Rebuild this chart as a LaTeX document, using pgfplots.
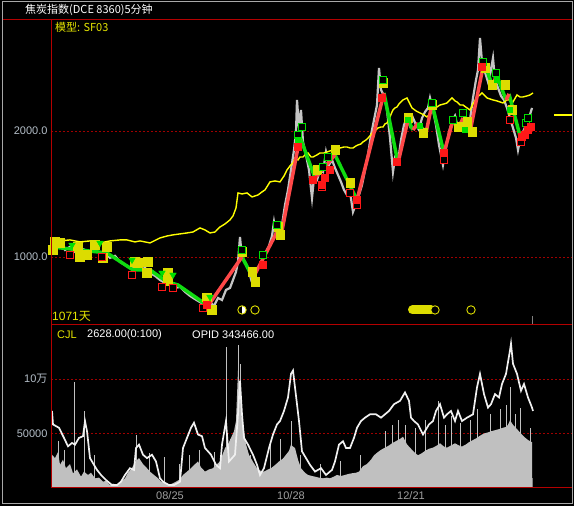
\documentclass[border=0pt]{standalone}
\usepackage{fontspec}
\setmainfont{Liberation Sans}
\newfontfamily\cjk{Noto Sans CJK SC}
\usepackage{pgfplots}
\pgfplotsset{compat=1.18}
\usetikzlibrary{plotmarks}

\definecolor{framegray}{HTML}{A8A8A8}
\definecolor{axred}{HTML}{B40000}
\definecolor{gridred}{HTML}{A00000}
\definecolor{ticktxt}{HTML}{B4BEC8}
\definecolor{pricegray}{HTML}{C4C4C4}
\definecolor{sfyel}{HTML}{FFFF00}
\definecolor{mkyel}{HTML}{DCDC00}
\definecolor{upred}{HTML}{FF4848}
\definecolor{dngreen}{HTML}{10DC10}
\definecolor{mkred}{HTML}{FF1818}
\definecolor{mkgreen}{HTML}{00E000}
\definecolor{txtyel}{HTML}{E6E600}
\definecolor{volgray}{HTML}{C0C0C0}
\definecolor{oigray}{HTML}{F0F0F0}
\definecolor{dategray}{HTML}{A0A0A0}

\pgfplotsset{
  panel/.style={
    scale only axis, width=521pt, xmin=51, xmax=572,
    axis line style={draw=none}, tick style={draw=none},
    ymajorgrids, grid style={gridred, dash pattern=on 2pt off 2pt, line width=0.8pt},
    yticklabel style={text=ticktxt, font=\fontsize{11}{12}\selectfont},
    unbounded coords=jump,
  },
  ysq/.style={only marks, mark=square*, mark size=4.3pt, color=mkyel},
  rsq/.style={only marks, mark=square*, mark size=3.4pt, color=mkred},
  rhol/.style={only marks, mark=square*, mark size=3.2pt, mark options={draw=mkred, fill=black, line width=1pt}},
  ghol/.style={only marks, mark=square*, mark size=3.2pt, mark options={draw=mkgreen, fill=black, line width=1pt}},
  garr/.style={only marks, mark=triangle*, mark size=3.8pt, color=mkgreen, mark options={rotate=180}},
}

\begin{document}
\begin{tikzpicture}
\path[use as bounding box] (0,0) rectangle (574pt,506pt);
\fill[black] (0,0) rectangle (574pt,506pt);

% ---- price panel ----
\begin{axis}[panel,
  at={(51pt,181pt)}, anchor=south west, height=305pt,
  ymode=log, ymin=687.7, ymax=3683,
  xtick=\empty, ytick={1000,2000}, yticklabels={1000.0,2000.0},
]
% price trace
\addplot[pricegray, line width=2.2pt] coordinates {
(51,1062)(55,1045)(60,1074)(65,1039)(70,1057)(75,1028)(80,1051)(85,1039)(90,1022)(95,1045)
(100,1017)(105,1028)(110,995)(115,1006)(120,973)(125,957)(130,941)(135,952)(140,931)(145,941)
(150,916)(155,901)(160,881)(165,867)(170,876)(175,843)(180,848)(185,825)(190,807)(195,793)
(200,780)(205,768)(208,751)(211,776)(214,764)(218,798)(222,789)(226,834)(230,843)(233,881)
(236,921)(238,973)(240,1116)(242,995)(245,973)(248,941)(251,886)(254,921)(257,931)(260,952)
(263,995)(266,1028)(269,1062)(272,1122)(274,1212)(276,1135)(279,1122)(282,1192)(285,1331)(288,1446)
(291,1614)(294,1801)(296,1989)(297,2372)(299,2033)(301,2245)(303,1883)(306,1753)(309,1614)(312,1383)
(314,1544)(317,1527)(320,1614)(323,1596)(326,1782)(329,1659)(332,1705)(335,1632)(338,1570)(341,1511)
(344,1446)(347,1406)(350,1430)(353,1281)(356,1339)(359,1406)(362,1486)(365,1614)(368,1753)(371,1957)
(374,2125)(377,2307)(379,2828)(381,2506)(384,2425)(387,2245)(390,1924)(393,1596)(395,1724)(398,1686)
(401,1903)(404,2067)(407,2148)(410,2056)(413,2148)(416,2067)(419,2011)(422,2148)(425,2220)(428,2270)
(430,2398)(433,2245)(436,2067)(439,1852)(441,1753)(443,1659)(446,1821)(449,1989)(452,2102)(455,2172)
(458,2033)(461,2102)(464,2148)(467,2033)(470,2125)(473,2398)(476,2648)(478,2797)(480,3336)(482,2923)
(485,2767)(488,2619)(490,2722)(493,2988)(495,2648)(498,2534)(501,2425)(504,2372)(507,2270)(510,2148)
(513,2033)(516,1924)(518,1801)(520,1903)(523,1989)(526,2067)(529,2148)(532,2270)
};
% model line SF03
\addplot[sfyel, line width=1.4pt] coordinates {
(51,1098)(60,1092)(70,1098)(80,1086)(90,1092)(100,1080)(110,1092)(120,1098)(127,1098)(135,1086)
(140,1092)(150,1080)(160,1110)(167,1122)(173,1129)(180,1135)(187,1141)(193,1147)(200,1173)(205,1160)
(210,1141)(215,1147)(220,1179)(225,1199)(230,1226)(233,1253)(236,1309)(238,1422)(242,1414)(247,1422)
(252,1391)(258,1406)(262,1430)(265,1446)(270,1511)(275,1519)(280,1511)(284,1561)(287,1614)(290,1650)
(293,1677)(295,1724)(298,1705)(300,1733)(303,1733)(306,1762)(308,1772)(311,1733)(313,1733)(317,1753)
(320,1772)(324,1772)(327,1782)(330,1792)(333,1801)(337,1811)(340,1821)(344,1831)(347,1831)(350,1821)
(353,1821)(356,1842)(358,1852)(361,1862)(363,1883)(366,1903)(368,1924)(371,1957)(373,1989)(376,2011)
(378,2033)(381,2044)(383,2044)(385,2079)(387,2090)(389,2137)(390,2160)(392,2220)(393,2245)(395,2270)
(397,2282)(399,2320)(400,2333)(403,2372)(407,2398)(410,2320)(412,2270)(416,2233)(420,2208)(424,2184)
(427,2160)(430,2196)(433,2245)(437,2282)(440,2307)(444,2320)(447,2333)(450,2372)(452,2398)(455,2359)
(457,2346)(460,2307)(463,2307)(467,2270)(470,2245)(473,2320)(477,2411)(480,2438)(482,2465)(485,2425)
(487,2398)(490,2385)(493,2372)(497,2359)(500,2346)(503,2333)(507,2372)(510,2372)(513,2346)(517,2438)
(520,2411)(523,2411)(527,2425)(530,2438)(533,2465)
};
\addplot[sfyel, line width=1.4pt] coordinates {(554,2184)(572,2184)};
% down legs
\addplot[dngreen, line width=3.5pt] coordinates {
(51,1057)(107,1022)(133,931)(150,931)(167,872)(178,857)(208,764) (208,nan)
(242,1000)(253,891) (253,nan)
(277,1147)(281,1122) (281,nan)
(300,1935)(315,1544) (315,nan)
(335,1753)(357,1368) (357,nan)
(384,2465)(398,1677) (398,nan)
(408,2125)(413,2011) (413,nan)
(418,2090)(426,1978) (426,nan)
(432,2320)(444,1772) (444,nan)
(453,2125)(458,2011) (458,nan)
(463,2148)(470,1989) (470,nan)
(484,2923)(492,2576) (492,nan)
(497,2707)(506,2372) (506,nan)
(509,2452)(520,1946)
};
% up legs
\addplot[upred, line width=3.5pt] coordinates {
(208,764)(242,1000) (242,nan)
(253,891)(277,1147) (277,nan)
(281,1122)(300,1935) (300,nan)
(315,1544)(335,1753) (335,nan)
(357,1368)(384,2465) (384,nan)
(398,1677)(408,2125) (408,nan)
(413,2011)(418,2090) (418,nan)
(426,1978)(432,2320) (432,nan)
(444,1772)(453,2125) (453,nan)
(458,2011)(463,2148) (463,nan)
(470,1989)(484,2923) (484,nan)
(492,2576)(497,2707) (497,nan)
(506,2372)(509,2452) (509,nan)
(520,1946)(530,2056)
};
% signal marks
\addplot[ysq] coordinates {
(55,1086)(53,1039)(60,1080)(78,1057)(80,1000)(87,1011)(95,1068)(107,1057)(103,995)(135,973)
(138,968)(147,916)(148,973)(168,876)(168,916)(207,802)(212,747)(242,1028)(252,921)(255,872)
(278,1179)(280,1129)(317,1614)(335,1801)(350,1502)(383,2604)(408,2148)(423,1978)(432,2307)(458,2044)
(467,2102)(472,1989)(485,2828)(492,2576)(505,2576)(512,2245)
};
\addplot[rhol] coordinates {
(70,1011)(102,1000)(132,906)(162,848)(173,843)(203,755)(322,1470)(357,1331)(350,1422)(444,1705)
(510,2125)(521,1883)
};
\addplot[ghol] coordinates {
(302,2044)(298,1957)(323,1641)(328,1733)(383,2648)(432,2333)(453,2125)(463,2208)(483,2923)(496,2752)
(526,2090)(528,2148)(242,1039)(263,1011)(277,1192)
};
\addplot[garr] coordinates {
(72,1068)(100,1080)(132,984)(162,916)(173,906)(210,802)
};
\addplot[only marks, mark=square*, mark size=2.6pt, color=mkgreen] coordinates {
(408,2125)(420,2056)(465,2011)(497,2648)(510,2245)(298,1900)
};
\addplot[rsq] coordinates {
(298,1831)(313,1527)(322,1486)(325,1544)(330,1614)(357,1368)(382,2398)(397,1686)(444,1772)(482,2844)
(522,1935)(525,1957)(528,2011)(531,2044)(263,957)(207,768)
};
% cycle circles
\addplot[mkyel, line width=9pt, line cap=round] coordinates {(412.5,747)(431,747)};
\addplot[only marks, mark=*, mark size=4.2pt, mark options={draw=mkyel, fill=black, line width=0.9pt}]
  coordinates {(255,747)(435,747)(471,747)};
\addplot[only marks, mark=halfcircle*, mark size=4.2pt, mark options={draw=mkyel, fill=black, line width=0.9pt, rotate=90}]
  coordinates {(242,747)};
\end{axis}

% ---- volume panel ----
\begin{axis}[panel,
  at={(51pt,18pt)}, anchor=south west, height=163pt,
  ymin=0, ymax=149500, scaled y ticks=false,
  ytick={50000,100000}, yticklabels={50000,10{\cjk 万}},
  xtick={170,291,411}, xticklabels={08/25,10/28,12/21},
  xticklabel style={text=dategray, font=\fontsize{11}{12}\selectfont},
]
\addplot[fill=volgray, draw=none] coordinates {
(51,0)(52,30500)(55,27410)(58,33000)(60,21230)(63,26000)(66,18140)(70,22000)(73,13505)(77,17000)
(81,10415)(84,15000)(88,11960)(91,14000)(95,8870)(99,9500)(103,5780)(106,6500)(110,2690)(113,4000)
(117,2690)(121,6000)(125,8870)(128,14000)(132,18140)(135,24000)(139,27410)(143,22000)(147,18140)(150,15000)
(154,11960)(158,9000)(161,5780)(165,4500)(169,2690)(172,4000)(176,5780)(180,8000)(183,11960)(187,15000)
(191,18140)(194,21000)(198,24320)(201,19000)(205,15050)(209,17000)(213,18140)(216,21000)(220,24320)(225,36680)
(228,40000)(231,45950)(234,52000)(236,61400)(238,107750)(240,83030)(242,62000)(244,52130)(246,40000)(249,30500)
(253,24000)(257,18140)(260,16000)(264,15050)(268,17000)(271,18140)(275,21000)(279,24320)(283,27000)(286,30500)
(289,34000)(291,39770)(293,38000)(295,36680)(298,26000)(301,18140)(305,14000)(308,11960)(312,11000)(315,10415)
(319,9500)(323,8870)(327,9500)(330,8870)(334,10500)(337,11960)(341,11000)(345,11960)(349,13000)(352,13505)
(356,14000)(359,15050)(363,20000)(367,22000)(371,26000)(374,30000)(378,33000)(381,35000)(385,37000)(389,39000)
(392,41000)(396,43000)(400,45000)(403,47000)(407,40000)(411,36000)(414,33000)(418,30000)(422,32000)(425,34000)
(429,36000)(433,37000)(437,39000)(440,41000)(444,38000)(447,37000)(451,39000)(455,41000)(459,39000)(462,38000)
(466,40000)(469,42000)(473,44000)(477,46000)(480,48000)(484,50000)(488,51000)(491,52000)(495,53000)(499,54000)
(502,55000)(506,56000)(508,58000)(510,62000)(513,58000)(517,54000)(521,50000)(524,47000)(528,44000)(532,42000)
(532,0)
} \closedcycle;
\addplot[ycomb, volgray, line width=1pt] coordinates {
(59,42860)(65,35000)(75,96935)(85,70670)(95,30000)(137,49040)(150,32000)(165,28000)(180,22000)(190,30000)
(200,35000)(215,33000)(226,129380)(230,45000)(238,130925)(240,113930)(250,30000)(270,40000)(280,45000)(291,61400)
(300,30000)(320,22000)(340,25000)(360,30000)(385,52000)(392,58000)(398,62000)(405,58000)(415,55000)(425,62000)
(438,79940)(445,58000)(451,66000)(460,60000)(470,62000)(477,72000)(490,68000)(500,72000)(506,76000)(510,92300)
(515,68000)(520,73760)(530,55000)
};
\addplot[oigray, line width=1.7pt] coordinates {
(52,70670)(53,58310)(59,55220)(64,45950)(68,38225)(72,41315)(75,39770)(79,45950)(83,47495)(85,61400)
(87,52130)(90,27410)(94,21230)(97,16595)(101,11960)(106,7325)(112,2690)(117,2690)(121,5780)(125,11960)
(130,18140)(134,16595)(136,36680)(139,39770)(143,30500)(147,27410)(152,30500)(156,24320)(160,8870)(163,5780)
(169,2690)(174,2690)(180,5780)(183,36680)(187,45950)(191,55220)(194,59855)(198,49040)(202,47495)(205,36680)
(211,30500)(216,21230)(220,18140)(222,39770)(226,61400)(229,24320)(235,30500)(238,67580)(240,98480)(242,67580)
(244,45950)(248,39770)(253,30500)(257,21230)(260,11960)(264,18140)(269,36680)(273,49040)(277,58310)(280,61400)
(284,70670)(288,83030)(291,104660)(293,107750)(295,92300)(299,61400)(302,33590)(306,27410)(310,21230)(315,15050)
(321,18140)(326,11960)(332,16595)(335,24320)(339,39770)(343,42860)(346,36680)(350,36680)(354,45950)(357,55220)
(361,61400)(365,64490)(370,67580)(376,67580)(381,64490)(389,70670)(394,76850)(400,79940)(405,87665)(409,79940)
(411,64490)(414,61400)(418,58310)(423,49040)(429,58310)(433,61400)(436,70670)(440,76850)(444,64490)(447,67580)
(451,70670)(455,61400)(458,70670)(462,61400)(467,64490)(473,67580)(477,92300)(480,104660)(484,86120)(488,73760)
(491,76850)(495,86120)(499,83030)(502,95390)(506,104660)(510,126290)(511,132470)(513,113930)(517,104660)(521,89210)
(524,95390)(528,83030)(532,73760)(533,70670)
};
\end{axis}

% ---- frame and panel rules ----
\draw[framegray, line width=1.5pt] (2.5pt,2.5pt) rectangle (572.5pt,504.5pt);
\draw[axred, line width=1pt] (3pt,486pt) -- (572pt,486pt);
\draw[axred, line width=1pt] (51pt,486pt) -- (51pt,18pt);
\draw[axred, line width=1pt] (51pt,181pt) -- (572pt,181pt);
\draw[axred, line width=1pt] (51pt,18pt) -- (572pt,18pt);
\draw[gray, line width=0.8pt] (532pt,182pt) -- (532pt,190pt);
\draw[gray, line width=0.8pt] (532pt,19pt) -- (532pt,28pt);

% ---- texts ----
\node[anchor=west, inner sep=0, text=white, font=\cjk\fontsize{11}{12}\selectfont] at (25pt,496pt) {焦炭指数(DCE 8360)5分钟};
\node[anchor=west, inner sep=0, text=txtyel, font=\cjk\fontsize{11}{12}\selectfont] at (55pt,479pt) {模型: SF03};
\node[anchor=west, inner sep=0, text=txtyel, font=\fontsize{12}{13}\selectfont] at (52pt,190pt) {1071{\cjk 天}};
\node[anchor=west, inner sep=0, text=txtyel, font=\fontsize{11}{12}\selectfont] at (57pt,171pt) {CJL};
\node[anchor=west, inner sep=0, text=white, font=\fontsize{11}{12}\selectfont] at (87pt,171pt) {2628.00(0:100)};
\node[anchor=west, inner sep=0, text=white, font=\fontsize{11}{12}\selectfont] at (192pt,171pt) {OPID 343466.00};
\end{tikzpicture}
\end{document}
